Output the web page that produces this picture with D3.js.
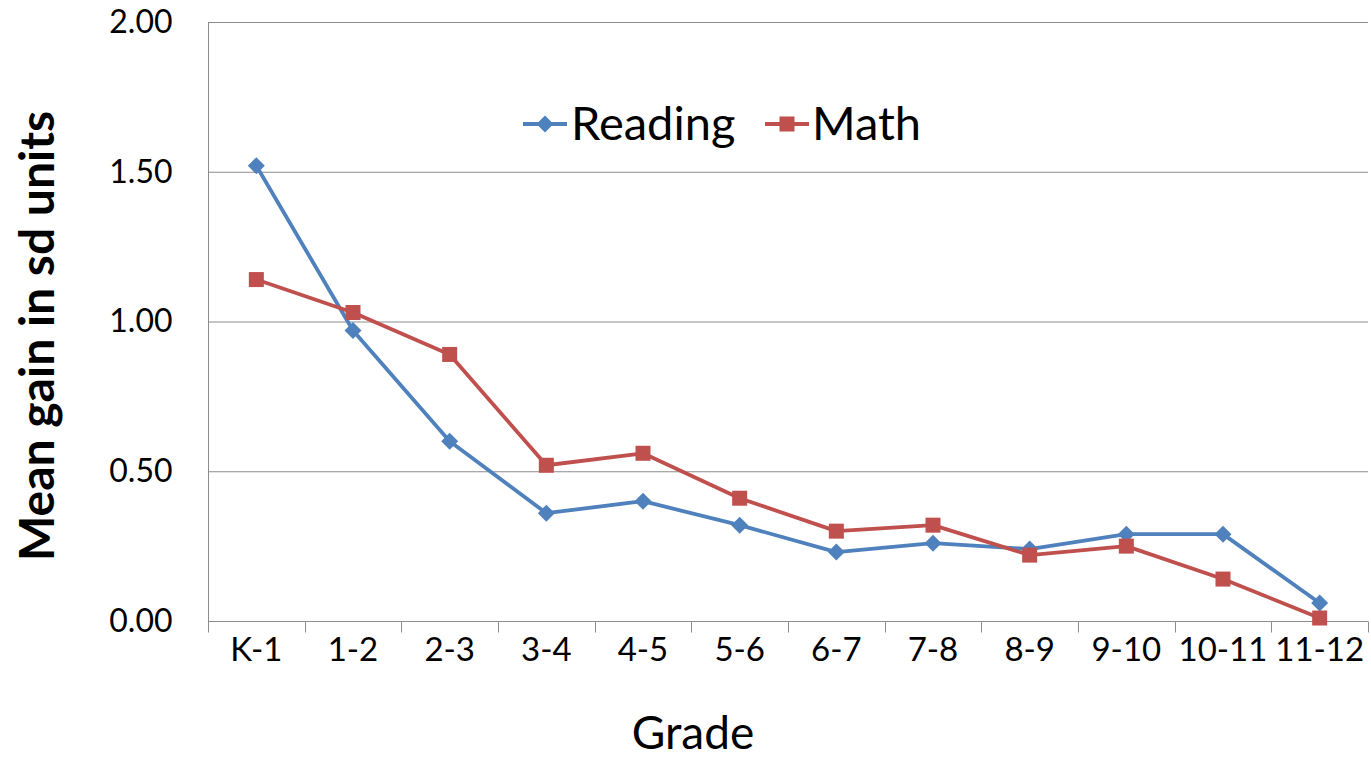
<!DOCTYPE html>
<html>
<head>
<meta charset="utf-8">
<script src="https://cdn.jsdelivr.net/npm/d3@7"></script>
<style>
  html, body { margin: 0; padding: 0; background: #fff; }
  svg { display: block; font-family: Lato, "Open Sans", sans-serif; }
</style>
</head>
<body>
<svg id="chart" width="1371" height="760"></svg>
<script>
// Grade spans on the x axis
const grades = ["K-1", "1-2", "2-3", "3-4", "4-5", "5-6", "6-7", "7-8", "8-9", "9-10", "10-11", "11-12"];
// Mean annual gain, in standard-deviation units
const reading = [1.52, 0.97, 0.60, 0.36, 0.40, 0.32, 0.23, 0.26, 0.24, 0.29, 0.29, 0.06];
const math    = [1.14, 1.03, 0.89, 0.52, 0.56, 0.41, 0.30, 0.32, 0.22, 0.25, 0.14, 0.01];
const yTicks  = [0, 0.5, 1.0, 1.5, 2.0];

const svg = d3.select("#chart");
const margin = { left: 208, right: 3, top: 22, bottom: 139 };
const W = 1371, H = 760;
const plotW = W - margin.left - margin.right;
const plotH = H - margin.top - margin.bottom;

const x = d3.scaleBand().domain(grades).range([0, plotW]);
const y = d3.scaleLinear().domain([0, 2]).range([plotH, 0]);

const g = svg.append("g").attr("transform", `translate(${margin.left},${margin.top})`);

// horizontal gridlines
g.append("g").selectAll("line").data(yTicks.filter(d => d > 0)).join("line")
  .attr("x1", 0).attr("x2", plotW)
  .attr("y1", d => y(d) + 0.5).attr("y2", d => y(d) + 0.5)
  .attr("stroke", "#8c8c8c").attr("stroke-width", 1);

// y axis: line + labels, no tick marks
const yAxis = g.append("g").attr("transform", "translate(0.5,0)")
  .call(d3.axisLeft(y).tickValues(yTicks).tickFormat(d3.format(".2f")).tickSize(0).tickPadding(36));
yAxis.select(".domain").attr("stroke", "#8c8c8c").attr("d", `M0,0V${plotH}`);
yAxis.selectAll("text").attr("font-size", 32).attr("font-family", "Lato, sans-serif").attr("fill", "#000");

// x axis: ticks at band boundaries
const xAxisG = g.append("g").attr("transform", `translate(0,${plotH + 0.5})`);
xAxisG.append("line").attr("x1", 0).attr("x2", plotW).attr("stroke", "#8c8c8c");
const bounds = d3.range(grades.length + 1).map(i => i * x.step());
xAxisG.selectAll("line.tick").data(bounds).join("line").attr("class", "tick")
  .attr("x1", d => Math.round(d) + 0.5).attr("x2", d => Math.round(d) + 0.5)
  .attr("y1", 0).attr("y2", 11).attr("stroke", "#8c8c8c");
xAxisG.selectAll("text").data(grades).join("text")
  .attr("x", d => x(d) + x.bandwidth() / 2).attr("y", 39)
  .attr("text-anchor", "middle").attr("font-size", 33).attr("fill", "#000")
  .text(d => d);

// series lines and markers
const cx = d => x(d) + x.bandwidth() / 2;
const line = vals => d3.line().x((d, i) => cx(grades[i])).y(d => y(d))(vals);

const series = [
  { name: "Reading", values: reading, color: "#4F81BD", marker: "diamond" },
  { name: "Math", values: math, color: "#C0504D", marker: "square" }
];

function drawMarker(sel, type, color) {
  if (type === "diamond") {
    sel.append("path").attr("d", "M0,-8.5L8.5,0L0,8.5L-8.5,0Z").attr("fill", color);
  } else {
    sel.append("rect").attr("x", -7.5).attr("y", -7.5).attr("width", 15).attr("height", 15).attr("fill", color);
  }
}

series.forEach(s => {
  g.append("path").attr("d", line(s.values)).attr("fill", "none")
    .attr("stroke", s.color).attr("stroke-width", 3.8).attr("stroke-linejoin", "round");
});
series.forEach(s => {
  s.values.forEach((v, i) => {
    const m = g.append("g").attr("transform", `translate(${cx(grades[i])},${y(v)})`);
    drawMarker(m, s.marker, s.color);
  });
});

// legend
const legend = svg.append("g");
const legendItems = [
  { s: series[0], x0: 523, tx: 571 },
  { s: series[1], x0: 765, tx: 812 }
];
legendItems.forEach(it => {
  const lg = legend.append("g").attr("transform", `translate(${it.x0},124)`);
  lg.append("line").attr("x1", 0).attr("x2", 44).attr("stroke", it.s.color).attr("stroke-width", 3.8);
  const m = lg.append("g").attr("transform", "translate(22,0)");
  drawMarker(m, it.s.marker, it.s.color);
  legend.append("text").attr("x", it.tx).attr("y", 140).attr("font-size", 47).attr("fill", "#000").text(it.s.name);
});

// axis titles
svg.append("text").attr("x", 693).attr("y", 749).attr("text-anchor", "middle")
  .attr("font-size", 46).attr("fill", "#000").text("Grade");
svg.append("text").attr("transform", "translate(54,336) rotate(-90)").attr("text-anchor", "middle")
  .attr("font-size", 48).attr("font-weight", "bold").attr("fill", "#000").text("Mean gain in sd units");
</script>
</body>
</html>
